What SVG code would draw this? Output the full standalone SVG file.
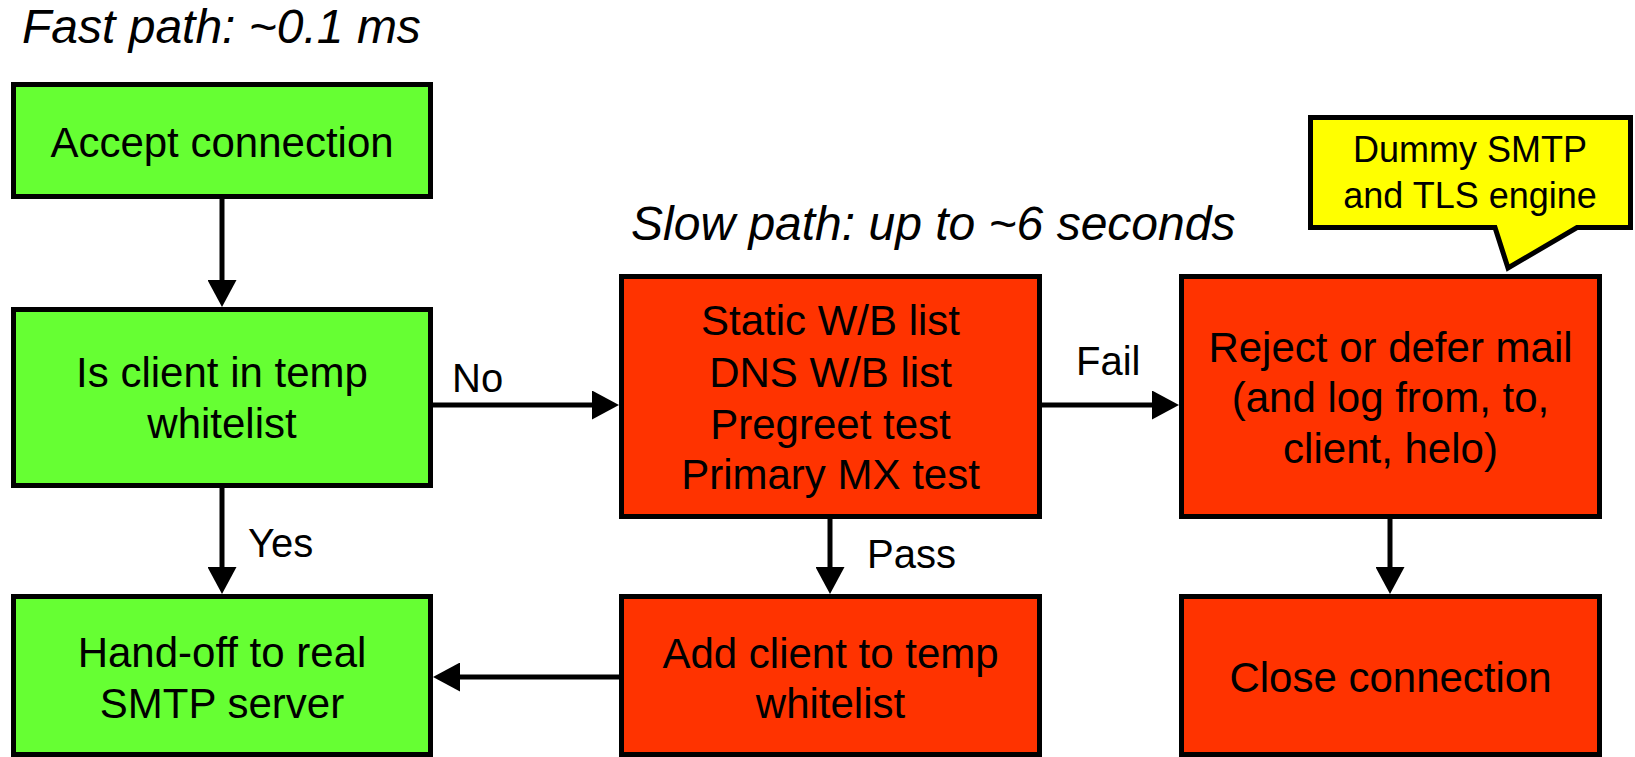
<svg xmlns="http://www.w3.org/2000/svg" width="1635" height="757" viewBox="0 0 1635 757">
<style>
.box{stroke:#000;stroke-width:5}
.g{fill:#66FF33}
.r{fill:#FF3300}
.y{fill:#FFFF00}
text{font-family:"Liberation Sans",Arial,sans-serif;fill:#000}
.t{font-size:42px;text-anchor:middle}
.lbl{font-size:40px}
.title{font-size:48px;font-style:italic}
.co{font-size:36px;text-anchor:middle}
.conn{stroke:#000;stroke-width:5;fill:none;marker-end:url(#ah)}
</style>
<defs>
<marker id="ah" viewBox="0 0 27 29" refX="2" refY="14.5" markerWidth="27" markerHeight="29" markerUnits="userSpaceOnUse" orient="auto">
<path d="M0,0 L27,14.5 L0,29 Z" fill="#000"/>
</marker>
</defs>
<rect width="1635" height="757" fill="#fff"/>
<text class="title" x="22" y="43">Fast path: ~0.1 ms</text>
<text class="title" x="631" y="240">Slow path: up to ~6 seconds</text>

<g id="connectors">
<line class="conn" x1="222" y1="199" x2="222" y2="282"/>
<line class="conn" x1="433" y1="405" x2="594" y2="405"/>
<line class="conn" x1="1042" y1="405" x2="1154" y2="405"/>
<line class="conn" x1="222" y1="488" x2="222" y2="569"/>
<line class="conn" x1="830" y1="519" x2="830" y2="569"/>
<line class="conn" x1="1390" y1="519" x2="1390" y2="569"/>
<line class="conn" x1="619" y1="677" x2="458" y2="677"/>
<text class="lbl" x="452" y="392">No</text>
<text class="lbl" x="1076" y="375">Fail</text>
<text class="lbl" x="248" y="557">Yes</text>
<text class="lbl" x="867" y="568">Pass</text>
</g>

<g id="accept">
<rect class="box g" x="13.5" y="84.5" width="417" height="112"/>
<text class="t" x="222" y="157">Accept connection</text>
</g>
<g id="is-client">
<rect class="box g" x="13.5" y="309.5" width="417" height="176"/>
<text class="t" x="222" y="387">Is client in temp</text>
<text class="t" x="222" y="438">whitelist</text>
</g>
<g id="handoff">
<rect class="box g" x="13.5" y="596.5" width="417" height="158"/>
<text class="t" x="222" y="667">Hand-off to real</text>
<text class="t" x="222" y="718">SMTP server</text>
</g>
<g id="slow">
<rect class="box r" x="621.5" y="276.5" width="418" height="240"/>
<text class="t" x="830.5" y="335">Static W/B list</text>
<text class="t" x="830.5" y="387">DNS W/B list</text>
<text class="t" x="830.5" y="439">Pregreet test</text>
<text class="t" x="830.5" y="489">Primary MX test</text>
</g>
<g id="add-client">
<rect class="box r" x="621.5" y="596.5" width="418" height="158"/>
<text class="t" x="830.5" y="668">Add client to temp</text>
<text class="t" x="830.5" y="718">whitelist</text>
</g>
<g id="reject">
<rect class="box r" x="1181.5" y="276.5" width="418" height="240"/>
<text class="t" x="1390.5" y="362">Reject or defer mail</text>
<text class="t" x="1390.5" y="412">(and log from, to,</text>
<text class="t" x="1390.5" y="463">client, helo)</text>
</g>
<g id="close">
<rect class="box r" x="1181.5" y="596.5" width="418" height="158"/>
<text class="t" x="1390.5" y="692">Close connection</text>
</g>
<g id="callout">
<path class="y" d="M1310.5,117.5 H1630.5 V227.5 H1577 L1508,268 L1495,227.5 H1310.5 Z" stroke="#000" stroke-width="5" stroke-linejoin="miter"/>
<text class="co" x="1470" y="162">Dummy SMTP</text>
<text class="co" x="1470" y="208">and TLS engine</text>
</g>
</svg>
